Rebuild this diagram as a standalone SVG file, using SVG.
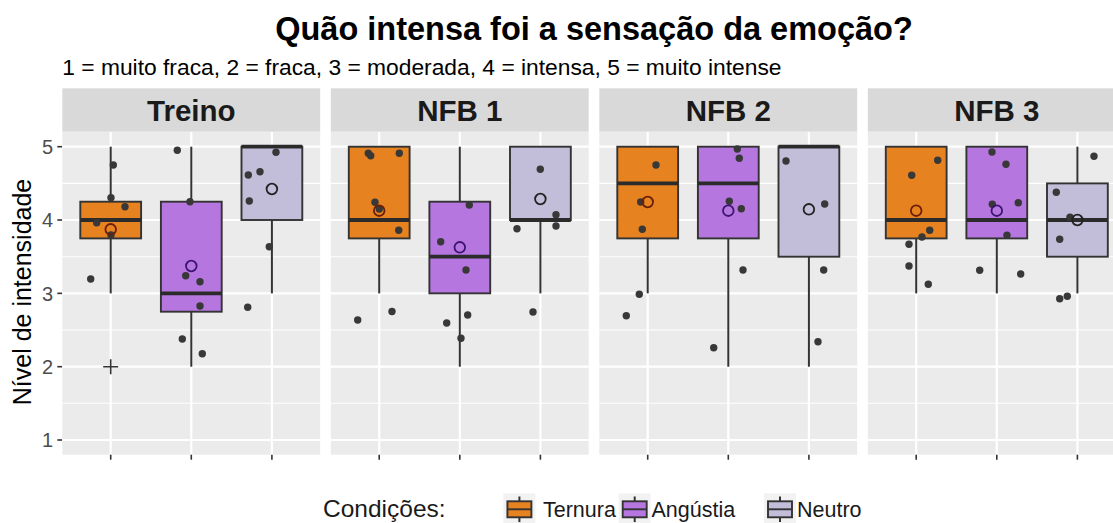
<svg xmlns="http://www.w3.org/2000/svg" width="1113" height="523" viewBox="0 0 1113 523">
<style>
text{font-family:"Liberation Sans",Arial,sans-serif}
.bg{fill:#EBEBEB}
.strip{fill:#D9D9D9}
.st{font-size:29.5px;font-weight:bold;fill:#1A1A1A;text-anchor:middle}
.gmaj{stroke:#fff;stroke-width:2.2}
.gmin{stroke:#fff;stroke-width:1.1}
.wh{stroke:#333;stroke-width:2}
.box{stroke:#333;stroke-width:1.9}
.med{stroke:#2B2B2B;stroke-width:3.8}
.o{fill:#E6821F}.p{fill:#B676E0}.n{fill:#C2BED9}
.pt circle{fill:#383838;r:3.7px}
.mo{fill:none;stroke:#6B1E08;stroke-width:1.8}
.mp{fill:none;stroke:#3D1470;stroke-width:1.8}
.mn{fill:none;stroke:#222;stroke-width:1.8}
.tick{stroke:#333;stroke-width:1.6}
.yl{font-size:20px;fill:#4D4D4D;text-anchor:end}
.lg{font-size:21.5px;fill:#1A1A1A}
.kbg{fill:#F2F2F2}
</style>

<text x="594" y="40" font-size="32.5" font-weight="bold" text-anchor="middle" fill="#000">Quão intensa foi a sensação da emoção?</text>
<text x="62.3" y="74.7" font-size="22.8" fill="#000">1 = muito fraca, 2 = fraca, 3 = moderada, 4 = intensa, 5 = muito intense</text>

<text transform="translate(30.7,292) rotate(-90)" font-size="25" text-anchor="middle" fill="#000">Nível de intensidade</text>

<g id="y-axis">
<line class="tick" x1="57.3" y1="146.7" x2="62.3" y2="146.7"/>
<line class="tick" x1="57.3" y1="220" x2="62.3" y2="220"/>
<line class="tick" x1="57.3" y1="293.35" x2="62.3" y2="293.35"/>
<line class="tick" x1="57.3" y1="366.7" x2="62.3" y2="366.7"/>
<line class="tick" x1="57.3" y1="440" x2="62.3" y2="440"/>
<text class="yl" x="53" y="153.9">5</text>
<text class="yl" x="53" y="227.2">4</text>
<text class="yl" x="53" y="300.5">3</text>
<text class="yl" x="53" y="373.9">2</text>
<text class="yl" x="53" y="447.2">1</text>
</g>

<!-- Panel 1: Treino -->
<g id="panel-treino">
<rect class="strip" x="62.3" y="88.3" width="257.9" height="43.4"/>
<text class="st" x="191.3" y="120.7">Treino</text>
<rect class="bg" x="62.3" y="132" width="257.9" height="322.7"/>
<g>
<line class="gmin" x1="62.3" x2="320.2" y1="183.4" y2="183.4"/>
<line class="gmin" x1="62.3" x2="320.2" y1="256.7" y2="256.7"/>
<line class="gmin" x1="62.3" x2="320.2" y1="330" y2="330"/>
<line class="gmin" x1="62.3" x2="320.2" y1="403.3" y2="403.3"/>
<line class="gmaj" x1="62.3" x2="320.2" y1="146.7" y2="146.7"/>
<line class="gmaj" x1="62.3" x2="320.2" y1="220" y2="220"/>
<line class="gmaj" x1="62.3" x2="320.2" y1="293.35" y2="293.35"/>
<line class="gmaj" x1="62.3" x2="320.2" y1="366.7" y2="366.7"/>
<line class="gmaj" x1="62.3" x2="320.2" y1="440" y2="440"/>
<line class="gmaj" x1="110.7" x2="110.7" y1="132" y2="454.7"/>
<line class="gmaj" x1="191.3" x2="191.3" y1="132" y2="454.7"/>
<line class="gmaj" x1="271.9" x2="271.9" y1="132" y2="454.7"/>
</g>
<line class="wh" x1="110.7" x2="110.7" y1="146.7" y2="293.35"/>
<rect class="box o" x="80.3" y="201.7" width="60.8" height="36.7"/>
<line class="med" x1="80.3" x2="141.1" y1="220" y2="220"/>
<line class="wh" x1="191.3" x2="191.3" y1="146.7" y2="366.7"/>
<rect class="box p" x="160.9" y="201.7" width="60.8" height="110"/>
<line class="med" x1="160.9" x2="221.7" y1="293.35" y2="293.35"/>
<line class="wh" x1="271.9" x2="271.9" y1="220" y2="293.35"/>
<rect class="box n" x="241.5" y="146.7" width="60.8" height="73.3"/>
<line class="med" x1="241.5" x2="302.3" y1="146.7" y2="146.7"/>
<path d="M103.2 366.7H118.2M110.7 359.2V374.2" stroke="#333" stroke-width="1.6" fill="none"/>
<g class="pt">
<circle cx="113.3" cy="165" r="3.7"/><circle cx="111" cy="197.7" r="3.7"/><circle cx="125" cy="206.7" r="3.7"/><circle cx="96.7" cy="222.7" r="3.7"/><circle cx="111" cy="235" r="3.7"/><circle cx="90.7" cy="279" r="3.7"/>
<circle cx="177.3" cy="150.3" r="3.7"/><circle cx="190" cy="201.7" r="3.7"/><circle cx="185.7" cy="275.7" r="3.7"/><circle cx="200" cy="281.7" r="3.7"/><circle cx="200" cy="306" r="3.7"/><circle cx="182.3" cy="339" r="3.7"/><circle cx="202.3" cy="353.7" r="3.7"/>
<circle cx="276" cy="152.3" r="3.7"/><circle cx="248.3" cy="175" r="3.7"/><circle cx="260" cy="171.7" r="3.7"/><circle cx="249.3" cy="201" r="3.7"/><circle cx="269.3" cy="246.7" r="3.7"/><circle cx="247.7" cy="307.3" r="3.7"/>
</g>
<circle class="mo" cx="110.7" cy="229.3" r="5.3"/>
<circle class="mp" cx="191.3" cy="266" r="5.3"/>
<circle class="mn" cx="271.9" cy="189" r="5.3"/>
<line class="tick" x1="110.7" x2="110.7" y1="454.7" y2="459.7"/>
<line class="tick" x1="191.3" x2="191.3" y1="454.7" y2="459.7"/>
<line class="tick" x1="271.9" x2="271.9" y1="454.7" y2="459.7"/>
</g>

<!-- Panel 2: NFB 1 -->
<g id="panel-nfb1">
<rect class="strip" x="330.8" y="88.3" width="257.9" height="43.4"/>
<text class="st" x="459.8" y="120.7">NFB 1</text>
<rect class="bg" x="330.8" y="132" width="257.9" height="322.7"/>
<g>
<line class="gmin" x1="330.8" x2="588.7" y1="183.4" y2="183.4"/>
<line class="gmin" x1="330.8" x2="588.7" y1="256.7" y2="256.7"/>
<line class="gmin" x1="330.8" x2="588.7" y1="330" y2="330"/>
<line class="gmin" x1="330.8" x2="588.7" y1="403.3" y2="403.3"/>
<line class="gmaj" x1="330.8" x2="588.7" y1="146.7" y2="146.7"/>
<line class="gmaj" x1="330.8" x2="588.7" y1="220" y2="220"/>
<line class="gmaj" x1="330.8" x2="588.7" y1="293.35" y2="293.35"/>
<line class="gmaj" x1="330.8" x2="588.7" y1="366.7" y2="366.7"/>
<line class="gmaj" x1="330.8" x2="588.7" y1="440" y2="440"/>
<line class="gmaj" x1="379.2" x2="379.2" y1="132" y2="454.7"/>
<line class="gmaj" x1="459.8" x2="459.8" y1="132" y2="454.7"/>
<line class="gmaj" x1="540.4" x2="540.4" y1="132" y2="454.7"/>
</g>
<line class="wh" x1="379.2" x2="379.2" y1="238.4" y2="293.35"/>
<rect class="box o" x="348.8" y="146.7" width="60.8" height="91.7"/>
<line class="med" x1="348.8" x2="409.6" y1="220" y2="220"/>
<line class="wh" x1="459.8" x2="459.8" y1="146.7" y2="366.7"/>
<rect class="box p" x="429.4" y="201.7" width="60.8" height="91.65"/>
<line class="med" x1="429.4" x2="490.2" y1="256.7" y2="256.7"/>
<line class="wh" x1="540.4" x2="540.4" y1="220" y2="293.35"/>
<rect class="box n" x="510" y="146.7" width="60.8" height="73.3"/>
<line class="med" x1="510" x2="570.8" y1="220" y2="220"/>
<g class="pt">
<circle cx="368.3" cy="153.3" r="3.7"/><circle cx="370.7" cy="155.7" r="3.7"/><circle cx="399.3" cy="153.3" r="3.7"/><circle cx="375" cy="202.3" r="3.7"/><circle cx="379.3" cy="209" r="3.7"/><circle cx="398.7" cy="230.3" r="3.7"/><circle cx="357.7" cy="320" r="3.7"/><circle cx="392" cy="311.5" r="3.7"/>
<circle cx="469.3" cy="205" r="3.7"/><circle cx="440.7" cy="241.7" r="3.7"/><circle cx="466" cy="270" r="3.7"/><circle cx="446.7" cy="323" r="3.7"/><circle cx="467.7" cy="315" r="3.7"/><circle cx="461" cy="338.3" r="3.7"/>
<circle cx="540.3" cy="169.3" r="3.7"/><circle cx="556" cy="214.7" r="3.7"/><circle cx="556" cy="226" r="3.7"/><circle cx="517" cy="228.7" r="3.7"/><circle cx="533" cy="312" r="3.7"/>
</g>
<circle class="mo" cx="379.2" cy="210.7" r="5.3"/>
<circle class="mp" cx="459.8" cy="247.3" r="5.3"/>
<circle class="mn" cx="540.4" cy="199" r="5.3"/>
<line class="tick" x1="379.2" x2="379.2" y1="454.7" y2="459.7"/>
<line class="tick" x1="459.8" x2="459.8" y1="454.7" y2="459.7"/>
<line class="tick" x1="540.4" x2="540.4" y1="454.7" y2="459.7"/>
</g>

<!-- Panel 3: NFB 2 -->
<g id="panel-nfb2">
<rect class="strip" x="599.3" y="88.3" width="257.9" height="43.4"/>
<text class="st" x="728.3" y="120.7">NFB 2</text>
<rect class="bg" x="599.3" y="132" width="257.9" height="322.7"/>
<g>
<line class="gmin" x1="599.3" x2="857.2" y1="183.4" y2="183.4"/>
<line class="gmin" x1="599.3" x2="857.2" y1="256.7" y2="256.7"/>
<line class="gmin" x1="599.3" x2="857.2" y1="330" y2="330"/>
<line class="gmin" x1="599.3" x2="857.2" y1="403.3" y2="403.3"/>
<line class="gmaj" x1="599.3" x2="857.2" y1="146.7" y2="146.7"/>
<line class="gmaj" x1="599.3" x2="857.2" y1="220" y2="220"/>
<line class="gmaj" x1="599.3" x2="857.2" y1="293.35" y2="293.35"/>
<line class="gmaj" x1="599.3" x2="857.2" y1="366.7" y2="366.7"/>
<line class="gmaj" x1="599.3" x2="857.2" y1="440" y2="440"/>
<line class="gmaj" x1="647.7" x2="647.7" y1="132" y2="454.7"/>
<line class="gmaj" x1="728.3" x2="728.3" y1="132" y2="454.7"/>
<line class="gmaj" x1="808.9" x2="808.9" y1="132" y2="454.7"/>
</g>
<line class="wh" x1="647.7" x2="647.7" y1="238.4" y2="293.35"/>
<rect class="box o" x="617.3" y="146.7" width="60.8" height="91.7"/>
<line class="med" x1="617.3" x2="678.1" y1="183.4" y2="183.4"/>
<line class="wh" x1="728.3" x2="728.3" y1="238.4" y2="366.7"/>
<rect class="box p" x="697.9" y="146.7" width="60.8" height="91.7"/>
<line class="med" x1="697.9" x2="758.7" y1="183.4" y2="183.4"/>
<line class="wh" x1="808.9" x2="808.9" y1="256.7" y2="366.7"/>
<rect class="box n" x="778.5" y="146.7" width="60.8" height="110"/>
<line class="med" x1="778.5" x2="839.3" y1="146.7" y2="146.7"/>
<g class="pt">
<circle cx="656" cy="165" r="3.7"/><circle cx="640.7" cy="202" r="3.7"/><circle cx="642.3" cy="229.3" r="3.7"/><circle cx="639.3" cy="294.3" r="3.7"/><circle cx="626.3" cy="315.7" r="3.7"/>
<circle cx="737.3" cy="149" r="3.7"/><circle cx="739.3" cy="158.3" r="3.7"/><circle cx="729.3" cy="201.3" r="3.7"/><circle cx="741.3" cy="208.7" r="3.7"/><circle cx="743" cy="270" r="3.7"/><circle cx="713.7" cy="347.7" r="3.7"/>
<circle cx="786" cy="161" r="3.7"/><circle cx="824.7" cy="204" r="3.7"/><circle cx="823.7" cy="270" r="3.7"/><circle cx="818" cy="341.7" r="3.7"/>
</g>
<circle class="mo" cx="647.7" cy="202" r="5.3"/>
<circle class="mp" cx="728.3" cy="210.7" r="5.3"/>
<circle class="mn" cx="808.9" cy="209.3" r="5.3"/>
<line class="tick" x1="647.7" x2="647.7" y1="454.7" y2="459.7"/>
<line class="tick" x1="728.3" x2="728.3" y1="454.7" y2="459.7"/>
<line class="tick" x1="808.9" x2="808.9" y1="454.7" y2="459.7"/>
</g>

<!-- Panel 4: NFB 3 -->
<g id="panel-nfb3">
<rect class="strip" x="867.8" y="88.3" width="257.9" height="43.4"/>
<text class="st" x="996.8" y="120.7">NFB 3</text>
<rect class="bg" x="867.8" y="132" width="257.9" height="322.7"/>
<g>
<line class="gmin" x1="867.8" x2="1125.7" y1="183.4" y2="183.4"/>
<line class="gmin" x1="867.8" x2="1125.7" y1="256.7" y2="256.7"/>
<line class="gmin" x1="867.8" x2="1125.7" y1="330" y2="330"/>
<line class="gmin" x1="867.8" x2="1125.7" y1="403.3" y2="403.3"/>
<line class="gmaj" x1="867.8" x2="1125.7" y1="146.7" y2="146.7"/>
<line class="gmaj" x1="867.8" x2="1125.7" y1="220" y2="220"/>
<line class="gmaj" x1="867.8" x2="1125.7" y1="293.35" y2="293.35"/>
<line class="gmaj" x1="867.8" x2="1125.7" y1="366.7" y2="366.7"/>
<line class="gmaj" x1="867.8" x2="1125.7" y1="440" y2="440"/>
<line class="gmaj" x1="916.2" x2="916.2" y1="132" y2="454.7"/>
<line class="gmaj" x1="996.8" x2="996.8" y1="132" y2="454.7"/>
<line class="gmaj" x1="1077.4" x2="1077.4" y1="132" y2="454.7"/>
</g>
<line class="wh" x1="916.2" x2="916.2" y1="238.4" y2="293.35"/>
<rect class="box o" x="885.8" y="146.7" width="60.8" height="91.7"/>
<line class="med" x1="885.8" x2="946.6" y1="220" y2="220"/>
<line class="wh" x1="996.8" x2="996.8" y1="238.4" y2="293.35"/>
<rect class="box p" x="966.4" y="146.7" width="60.8" height="91.7"/>
<line class="med" x1="966.4" x2="1027.2" y1="220" y2="220"/>
<line class="wh" x1="1077.4" x2="1077.4" y1="146.7" y2="293.35"/>
<rect class="box n" x="1047" y="183.4" width="60.8" height="73.3"/>
<line class="med" x1="1047" x2="1107.8" y1="220" y2="220"/>
<g class="pt">
<circle cx="937.7" cy="160.3" r="3.7"/><circle cx="911.7" cy="175.3" r="3.7"/><circle cx="929.7" cy="230.3" r="3.7"/><circle cx="922" cy="237" r="3.7"/><circle cx="909" cy="244.3" r="3.7"/><circle cx="909" cy="266" r="3.7"/><circle cx="928.3" cy="284.3" r="3.7"/>
<circle cx="992" cy="152" r="3.7"/><circle cx="1006" cy="164.3" r="3.7"/><circle cx="992.3" cy="204.3" r="3.7"/><circle cx="1018.3" cy="202.7" r="3.7"/><circle cx="1007" cy="235.3" r="3.7"/><circle cx="979.7" cy="270.3" r="3.7"/><circle cx="1020.7" cy="274" r="3.7"/>
<circle cx="1094" cy="156.3" r="3.7"/><circle cx="1056.3" cy="192.3" r="3.7"/><circle cx="1070" cy="217.3" r="3.7"/><circle cx="1059.7" cy="239.3" r="3.7"/><circle cx="1059.7" cy="298.7" r="3.7"/><circle cx="1067.3" cy="296.3" r="3.7"/>
</g>
<circle class="mo" cx="916.2" cy="210.7" r="5.3"/>
<circle class="mp" cx="996.8" cy="210.7" r="5.3"/>
<circle class="mn" cx="1077.4" cy="220" r="5.3"/>
<line class="tick" x1="916.2" x2="916.2" y1="454.7" y2="459.7"/>
<line class="tick" x1="996.8" x2="996.8" y1="454.7" y2="459.7"/>
<line class="tick" x1="1077.4" x2="1077.4" y1="454.7" y2="459.7"/>
</g>

<!-- Legend -->
<g id="legend">
<text x="323" y="517" font-size="24.5" fill="#1A1A1A">Condições:</text>
<g id="key-ternura">
<rect class="kbg" x="503.4" y="493.3" width="32" height="32"/>
<line class="wh" x1="519.4" x2="519.4" y1="496.5" y2="522.1"/>
<rect class="box o" x="507.4" y="501.3" width="24" height="16"/>
<line class="box" x1="507.4" x2="531.4" y1="509.3" y2="509.3"/>
<text class="lg" x="543" y="517">Ternura</text>
</g>
<g id="key-angustia">
<rect class="kbg" x="618.7" y="493.3" width="32" height="32"/>
<line class="wh" x1="634.7" x2="634.7" y1="496.5" y2="522.1"/>
<rect class="box p" x="622.7" y="501.3" width="24" height="16"/>
<line class="box" x1="622.7" x2="646.7" y1="509.3" y2="509.3"/>
<text class="lg" x="651.5" y="517">Angústia</text>
</g>
<g id="key-neutro">
<rect class="kbg" x="764" y="493.3" width="32" height="32"/>
<line class="wh" x1="780" x2="780" y1="496.5" y2="522.1"/>
<rect class="box n" x="768" y="501.3" width="24" height="16"/>
<line class="box" x1="768" x2="792" y1="509.3" y2="509.3"/>
<text class="lg" x="797" y="517">Neutro</text>
</g>
</g>
</svg>
